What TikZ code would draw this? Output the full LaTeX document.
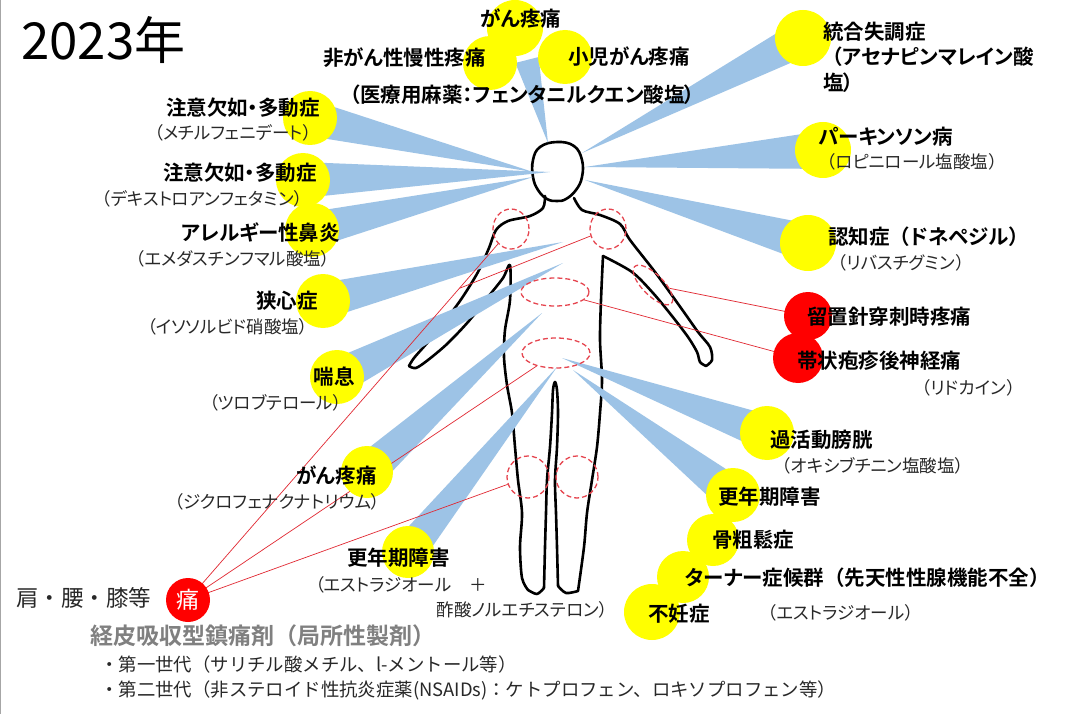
\documentclass[tikz,border=0pt]{standalone}
\usepackage{fontspec}
\usetikzlibrary{calc,shapes.geometric}
\newfontfamily\jp[RawFeature=+palt, BoldFont={Noto Sans CJK JP Bold}]{Noto Sans CJK JP}
\newfontfamily\jpw[BoldFont={Noto Sans CJK JP Bold}]{Noto Sans CJK JP}
\newcommand\zlp{{\jpw （}}
\newcommand\zrp{{\jpw ）}}
\definecolor{ylw}{RGB}{255,255,0}
\definecolor{beamc}{RGB}{157,195,230}
\definecolor{redc}{RGB}{255,0,0}
\definecolor{zonec}{RGB}{230,70,80}
\definecolor{linec}{RGB}{225,40,50}
\definecolor{subc}{RGB}{40,40,40}
\definecolor{headc}{RGB}{128,128,128}
\newcommand\beamto[3]{\fill[beam] (#2) -- ($(#1)!#3!90:(#2)$) -- ($(#1)!#3!-90:(#2)$) -- cycle;}
\begin{document}
\begin{tikzpicture}[x=1pt,y=-1pt,
  yc/.style={circle, fill=ylw, inner sep=0, minimum size=#1},
  rc/.style={circle, fill=redc, inner sep=0, minimum size=#1},
  beam/.style={fill=beamc},
  lbl/.style={font=\jp\bfseries\fontsize{20.5}{24}\selectfont, text=black, inner sep=0},
  sub/.style={font=\jp\fontsize{17.5}{21}\selectfont, text=subc, inner sep=0},
  note/.style={font=\jpw\fontsize{18.4}{22}\selectfont, text=subc, inner sep=0, anchor=west},
  zone/.style={ellipse, draw=zonec, dash pattern=on 5pt off 3pt, line width=1.3pt, inner sep=0},
  link/.style={draw=linec, line width=0.7pt},
  body/.style={line width=2.6pt, line cap=round, line join=round}]
\fill[white] (0,0) rectangle (1079,714);
\useasboundingbox (0,0) rectangle (1079,714);
\draw[black!35, line width=1.2pt] (0.6,0) -- (0.6,714);

% ---- figure outline ----
\draw[body] plot[smooth cycle, tension=0.7] coordinates {(557,142) (574,146) (582,160) (582,177) (576,190) (566,199) (557,201) (547,199) (538,190) (533,177) (533,160) (540,147)};
\draw[body] plot[smooth, tension=0.5] coordinates {(545,196) (543,208) (530,216) (508,221) (496,230) (489,248) (478,272) (462,298) (445,321) (428,342) (414,358) (409,366)};
\draw[body] plot[smooth, tension=0.5] coordinates {(409,366) (416,368) (428,360) (447,344) (468,322) (488,297) (503,278) (510,265) (510,300) (505,330) (504,357) (507,385) (512,413) (515,447) (518,480) (522,513) (520,547) (522,578) (528,590)};
\draw[body] plot[smooth, tension=0.5] coordinates {(528,590) (537,594) (544,588)};
\draw[body] plot[smooth, tension=0.5] coordinates {(544,588) (545,547) (546,513) (547,480) (550,447) (552,413) (553,390) (555,382) (557,390) (558,413) (557,447) (555,480) (556,513) (557,547) (558,586)};
\draw[body] plot[smooth, tension=0.5] coordinates {(558,586) (566,593) (578,591)};
\draw[body] plot[smooth, tension=0.5] coordinates {(578,591) (584,547) (587,513) (592,480) (597,447) (600,413) (602,380) (600,340) (601,300) (603,256)};
\draw[body] plot[smooth, tension=0.5] coordinates {(603,256) (632,272) (653,293) (672,316) (688,337) (697,352) (700,362) (706,366)};
\draw[body] plot[smooth, tension=0.5] coordinates {(706,366) (712,360) (710,347) (698,332) (681,308) (655,272) (630,240) (620,224) (600,215) (582,210) (574,198)};

% ---- circle centres ----
\coordinate (pTop) at (515,28);
\coordinate (pNon) at (490,63);
\coordinate (pPed) at (565,57);
\coordinate (pCl) at (527,60);
\coordinate (pSch) at (803,38);
\coordinate (pPark) at (823,150);
\coordinate (pDem) at (808,243);
\coordinate (pAd1) at (310,118);
\coordinate (pAd2) at (303,180);
\coordinate (pAll) at (312,230);
\coordinate (pAng) at (323,301);
\coordinate (pAst) at (337,377);
\coordinate (pCanL) at (367,472);
\coordinate (pMenL) at (408,552);
\coordinate (pOAB) at (767,433);
\coordinate (pMenR) at (733,495);
\coordinate (pOst) at (713,540);
\coordinate (pTur) at (683,577);
\coordinate (pInf) at (652,612);
\coordinate (pRyu) at (808,316);
\coordinate (pHer) at (798,358);
\coordinate (pPain) at (188,600);

% ---- beam tips on the figure ----
\coordinate (tTop) at (548,143);
\coordinate (tSch) at (582,153);
\coordinate (tPark) at (585,167);
\coordinate (tDem) at (585,180);
\coordinate (tAd1) at (533,172);
\coordinate (tAd2) at (550,172);
\coordinate (tAll) at (533,177);
\coordinate (tAng) at (563,242);
\coordinate (tAst) at (563,263);
\coordinate (tCanL) at (542,313);
\coordinate (tMenL) at (557,367);
\coordinate (tOAB) at (562,358);
\coordinate (tMenR) at (573,370);

% ---- beams ----
\beamto{pCl}{tTop}{12pt}
\beamto{pSch}{tSch}{18pt}
\beamto{pPark}{tPark}{19pt}
\beamto{pDem}{tDem}{19pt}
\beamto{pAd1}{tAd1}{18pt}
\beamto{pAd2}{tAd2}{18pt}
\beamto{pAll}{tAll}{18pt}
\beamto{pAng}{tAng}{18pt}
\beamto{pAst}{tAst}{18pt}
\beamto{pCanL}{tCanL}{18pt}
\beamto{pMenL}{tMenL}{17pt}
\beamto{pOAB}{tOAB}{18pt}
\beamto{pMenR}{tMenR}{18pt}

% ---- dashed zones ----
\node[zone, minimum width=36pt, minimum height=40pt] (lsh) at (511,229) {};
\node[zone, minimum width=36pt, minimum height=40pt] (rsh) at (608,229) {};
\node[zone, minimum width=52pt, minimum height=21pt, rotate=-45] (farm) at (653,285) {};
\node[zone, minimum width=68pt, minimum height=28pt] (chest) at (555,292) {};
\node[zone, minimum width=68pt, minimum height=30pt] (abd) at (556,353) {};
\node[zone, minimum size=42pt] (lkn) at (528,477) {};
\node[zone, minimum size=42pt] (rkn) at (577,477) {};

% ---- red links ----
\draw[link] (pPain) -- (lsh);
\coordinate (brk) at ($(pPain)!0.84!(lsh)$);
\draw[link] (brk) -- (rsh);
\draw[link] (pPain) -- (abd);
\draw[link] (pPain) -- (lkn);
\draw[link] (farm) -- (pRyu);
\draw[link] (chest) -- (pHer);

% ---- circles ----
\node[yc=54pt] (cNon) at (pNon) {};
\node[yc=54pt] (cPed) at (pPed) {};
\node[yc=56pt] (cTop) at (pTop) {};
\node[yc=56pt] (cSch) at (pSch) {};
\node[yc=56pt] (cPark) at (pPark) {};
\node[yc=56pt] (cDem) at (pDem) {};
\node[yc=54pt] (cAd1) at (pAd1) {};
\node[yc=54pt] (cAd2) at (pAd2) {};
\node[yc=54pt] (cAll) at (pAll) {};
\node[yc=54pt] (cAng) at (pAng) {};
\node[yc=54pt] (cAst) at (pAst) {};
\node[yc=52pt] (cCanL) at (pCanL) {};
\node[yc=52pt] (cMenL) at (pMenL) {};
\node[yc=54pt] (cOAB) at (pOAB) {};
\node[yc=54pt] (cMenR) at (pMenR) {};
\node[yc=52pt] (cOst) at (pOst) {};
\node[yc=52pt] (cTur) at (pTur) {};
\node[yc=56pt] (cInf) at (pInf) {};
\node[rc=48pt] (cRyu) at (pRyu) {};
\node[rc=50pt] (cHer) at (pHer) {};
\node[rc=44pt, font=\jpw\fontsize{23}{25}\selectfont, text=white] (pain) at (pPain) {痛};

% ---- labels ----
\node[font=\jpw\fontsize{51}{58}\selectfont, anchor=west, inner sep=0] (yr) at (21,40) {2023年};

\node[lbl] (lTop) at (521,19) {がん疼痛};
\node[lbl, anchor=west] (lNon) at (323,58) {非がん性慢性疼痛};
\node[lbl, anchor=west] (lPed) at (568,57) {小児がん疼痛};
\node[lbl, anchor=west] (lFen) at (350,95) {（医療用麻薬：フェンタニルクエン酸塩）};

\node[lbl, anchor=west] (lSch) at (823,32) {統合失調症};
\node[lbl, anchor=west] (lSch2) at (822,57) {\zlp アセナピンマレイン酸};
\node[lbl, anchor=west] (lSch3) at (823,83) {塩）};
\node[lbl, anchor=west] (lPark) at (818,137) {パーキンソン病};
\node[sub, anchor=west] (sPark) at (818,162) {\zlp ロピニロール塩酸塩\zrp};
\node[lbl, anchor=west] (lDem) at (828,237) {認知症\zlp ドネペジル\zrp};
\node[sub, anchor=west] (sDem) at (829,263) {\zlp リバスチグミン\zrp};
\node[lbl, anchor=west] (lRyu) at (807,317) {留置針穿刺時疼痛};
\node[lbl, anchor=west] (lHer) at (797,361) {帯状疱疹後神経痛};
\node[sub, anchor=west] (sHer) at (913,388) {\zlp リドカイン\zrp};
\node[lbl, anchor=west] (lOAB) at (770,440) {過活動膀胱};
\node[sub, anchor=west] (sOAB) at (773,466) {\zlp オキシブチニン塩酸塩\zrp};
\node[lbl, anchor=west] (lMenR) at (718,497) {更年期障害};
\node[lbl, anchor=west] (lOst) at (712,540) {骨粗鬆症};
\node[lbl, anchor=west] (lTur) at (685,578) {ターナー症候群\zlp 先天性性腺機能不全\zrp};
\node[lbl, anchor=west] (lInf) at (648,614) {不妊症};
\node[sub, anchor=west] (sInf) at (759,613) {\zlp エストラジオール\zrp};

\node[lbl, anchor=east] (lAd1) at (320,108) {注意欠如・多動症};
\node[sub, anchor=east] (sAd1) at (312,133) {（メチルフェニデート）};
\node[lbl, anchor=east] (lAd2) at (317,173) {注意欠如・多動症};
\node[sub, anchor=east] (sAd2) at (303,199) {（デキストロアンフェタミン）};
\node[lbl, anchor=east] (lAll) at (340,233) {アレルギー性鼻炎};
\node[sub, anchor=east] (sAll) at (330,259) {（エメダスチンフマル酸塩）};
\node[lbl, anchor=east] (lAng) at (318,301) {狭心症};
\node[sub, anchor=east] (sAng) at (308,327) {（イソソルビド硝酸塩）};
\node[lbl, anchor=east] (lAst) at (355,377) {喘息};
\node[sub, anchor=east] (sAst) at (342,403) {（ツロブテロール）};
\node[lbl, anchor=east] (lCanL) at (377,476) {がん疼痛};
\node[sub, anchor=east] (sCanL) at (380,502) {（ジクロフェナクナトリウム）};
\node[lbl, anchor=east] (lMenL) at (450,558) {更年期障害};
\node[sub, anchor=west] (sMenL) at (315,585) {（エストラジオール　＋};
\node[sub, anchor=east] (sMenL2) at (608,610) {酢酸ノルエチステロン）};

\node[font=\jpw\fontsize{22.5}{26}\selectfont, anchor=west, inner sep=0, text=subc] (site) at (16,598) {肩・腰・膝等};
\node[font=\jpw\bfseries\fontsize{23}{26}\selectfont, anchor=west, inner sep=0, text=headc] (tdd) at (90,636) {経皮吸収型鎮痛剤（局所性製剤）};
\node[note] (gen1) at (100,665) {・第一世代（サリチル酸メチル、l-メントール等）};
\node[note] (gen2) at (100,690) {・第二世代（非ステロイド性抗炎症薬(NSAIDs)：ケトプロフェン、ロキソプロフェン等）};
\end{tikzpicture}
\end{document}
